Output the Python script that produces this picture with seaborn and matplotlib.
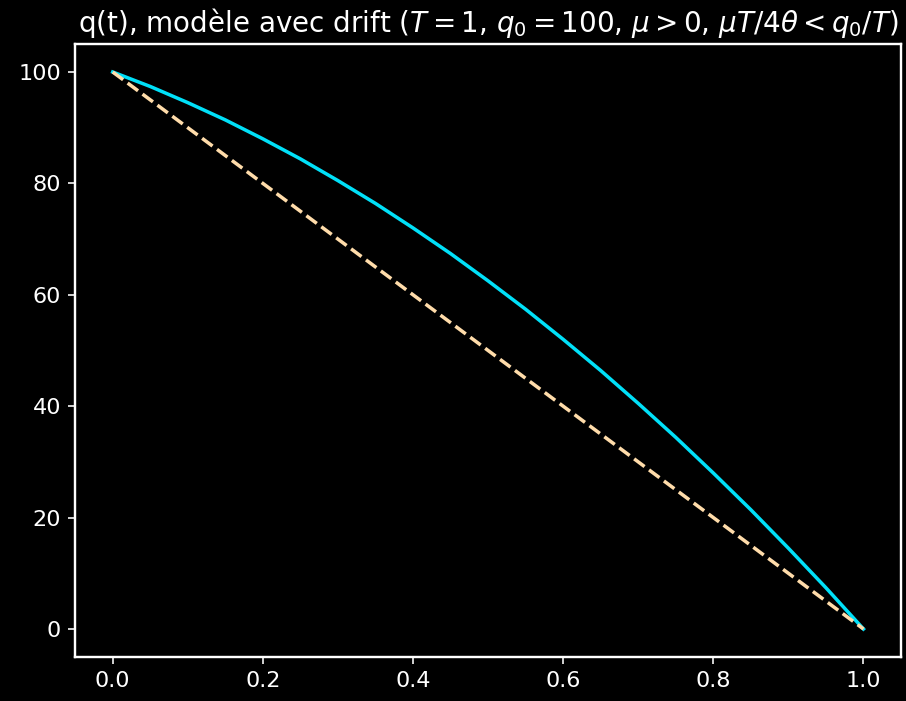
import matplotlib
matplotlib.use("Agg")
import matplotlib.pyplot as plt
import seaborn as sns
import pandas as pd

t_values = [0.0, 0.05, 0.1, 0.15, 0.2, 0.25, 0.3, 0.35, 0.4, 0.45, 0.5,
            0.55, 0.6, 0.65, 0.7, 0.75, 0.8, 0.85, 0.9, 0.95, 1.0]
q_drift = [100, 97.4, 94.5, 91.4, 88, 84.4, 80.5, 76.4, 72, 67.4, 62.5,
           57.4, 52, 46.4, 40.5, 34.4, 28, 21.4, 14.5, 7.4, 0]
t_linear = [0.0, 1.0]
q_linear = [100, 0]

plt.style.use("dark_background")
plt.rcParams['font.family'] = ['DejaVu Sans']

fig, ax = plt.subplots(figsize=(906 / 144, 701 / 144), dpi=144)
fig.subplots_adjust(left=0.083, right=0.9945, top=0.937, bottom=0.063)

df1 = pd.DataFrame({"t": t_values, "q": q_drift})
df2 = pd.DataFrame({"t": t_linear, "q": q_linear})
sns.lineplot(data=df1, x="t", y="q", ax=ax, color="#00e0f8", lw=1.75)
sns.lineplot(data=df2, x="t", y="q", ax=ax, color="#ffdcaa", lw=1.75, linestyle="--")

ax.set_xlabel("")
ax.set_ylabel("")
ax.tick_params(labelsize=11.2)
ax.set_title(r"q(t), modèle avec drift ($T = 1$, $q_0 = 100$, $\mu > 0$, $\mu T/4\theta < q_0/T$)",
             fontsize=13.9)
for s in ax.spines.values():
    s.set_linewidth(1.2)

fig.savefig("out.png", dpi=144)
